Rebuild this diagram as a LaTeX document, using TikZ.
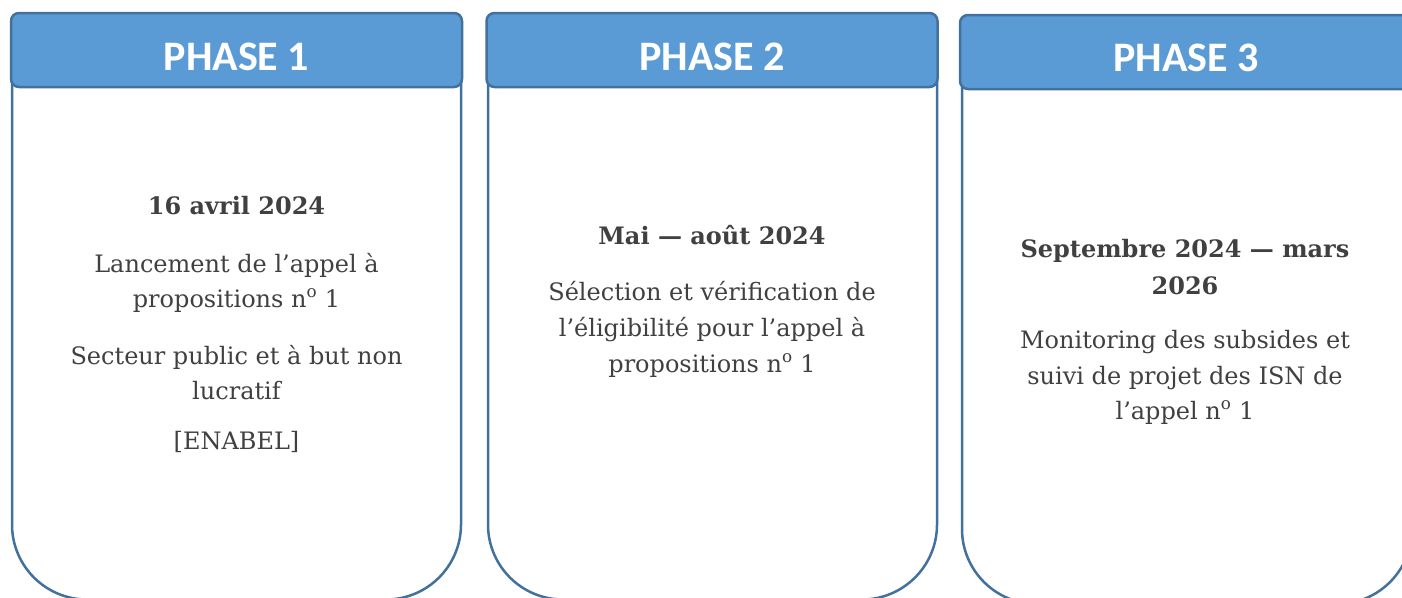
\documentclass[tikz,border=0pt]{standalone}
\usepackage{fontspec}
\setmainfont{DejaVu Serif}
\newfontfamily\hdrfont{Carlito}
\definecolor{hdrfill}{HTML}{5B9BD5}
\definecolor{edge}{HTML}{41719C}
\definecolor{txt}{HTML}{404040}
\begin{document}
\begin{tikzpicture}[x=1pt,y=-1pt,
  hdr/.style={draw=edge, line width=2.5pt, fill=hdrfill, rounded corners=8pt, minimum width=451pt, minimum height=74pt, inner sep=0pt},
  hdrtext/.style={text=white, font=\hdrfont\bfseries\fontsize{42}{42}\selectfont, anchor=base, inner sep=0pt},
  cardbody/.style={draw=edge, line width=2.5pt, rounded corners=75pt},
  bodytext/.style={text=txt, font=\fontsize{24}{35}\selectfont, anchor=base, inner sep=0pt},
  boldtext/.style={text=txt, font=\bfseries\fontsize{24}{35}\selectfont, anchor=base, inner sep=0pt}]
\clip (0,0) rectangle (1402,597);
\useasboundingbox (0,0) rectangle (1402,597);
% bodies
\draw[cardbody] (12,80) -- (12,599.5) -- (461,599.5) -- (461,80);
\draw[cardbody] (488,80) -- (488,599.5) -- (937,599.5) -- (937,80);
\draw[cardbody] (962,82) -- (962,604) -- (1412,604) -- (1412,82);
% headers
\node[hdr] (h1) at (236.5,50) {};
\node[hdr] (h2) at (712,50) {};
\node[hdr, minimum width=452pt] (h3) at (1186,52) {};
\node[hdrtext] (t1) at (236.5,70) {PHASE 1};
\node[hdrtext] (t2) at (712,70) {PHASE 2};
\node[hdrtext] (t3) at (1186,71) {PHASE 3};
% card 1 text
\node[boldtext] (a1) at (236.5,214) {16 avril 2024};
\node[bodytext] (a2) at (236.5,272) {Lancement de l’appel à};
\node[bodytext] (a3) at (236.5,307) {propositions n\textsuperscript{o} 1};
\node[bodytext] (a4) at (236.5,364) {Secteur public et à but non};
\node[bodytext] (a5) at (236.5,399) {lucratif};
\node[bodytext] (a6) at (236.5,449) {[ENABEL]};
% card 2 text
\node[boldtext] (b1) at (712,244) {Mai — août 2024};
\node[bodytext] (b2) at (712,300) {Sélection et vérification de};
\node[bodytext] (b3) at (712,336) {l’éligibilité pour l’appel à};
\node[bodytext] (b4) at (712,372) {propositions n\textsuperscript{o} 1};
% card 3 text
\node[boldtext] (c1) at (1185,257) {Septembre 2024 — mars};
\node[boldtext] (c2) at (1185,294) {2026};
\node[bodytext] (c3) at (1185,348) {Monitoring des subsides et};
\node[bodytext] (c4) at (1185,384) {suivi de projet des ISN de};
\node[bodytext] (c5) at (1185,419) {l’appel n\textsuperscript{o} 1};
\end{tikzpicture}
\end{document}
